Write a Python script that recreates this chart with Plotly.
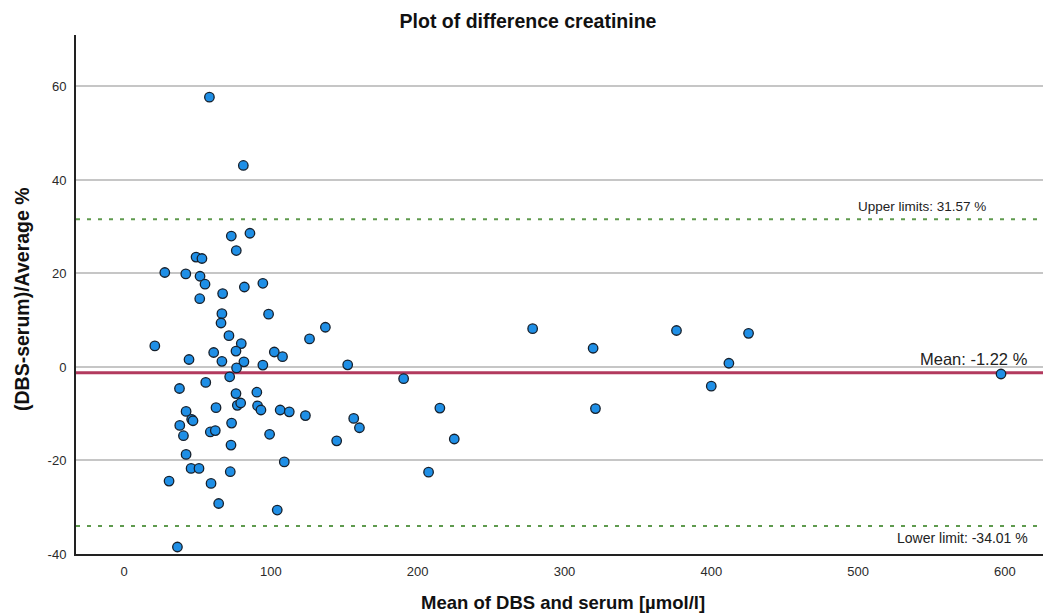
import plotly.graph_objects as go

# Mean of DBS and serum creatinine [µmol/l]
mean_umol = [
    58.1, 81.2,
    73.0, 85.7, 76.4, 49.0, 53.0, 27.7, 42.0, 51.7, 55.1, 81.9, 94.5, 67.1,
    51.5, 66.6, 98.4, 66.0, 71.4, 137.1, 126.3, 20.9, 79.8, 61.0, 76.2, 102.3,
    107.9, 44.2, 66.6, 81.6, 94.5, 76.6, 152.3, 71.9,
    37.7, 55.6, 76.2, 90.4, 77.1, 79.4, 62.6, 90.9, 93.2, 106.3, 112.5, 123.5,
    42.2, 46.0, 46.9, 37.9, 73.2, 58.7, 62.1, 40.4, 99.1, 72.8, 144.8, 42.2,
    109.1, 45.6, 51.0, 72.3, 30.6, 59.2, 64.4, 104.3, 36.3,
    156.4, 160.3, 190.4, 215.1, 224.9, 207.4,
    278.3, 319.5, 321.1, 376.3, 400.0, 412.0, 425.4, 597.4,
]

# Relative difference (DBS - serum) / average, in percent
diff_pct = [
    57.7, 43.1,
    28.0, 28.6, 24.9, 23.5, 23.2, 20.2, 19.9, 19.4, 17.7, 17.1, 17.9, 15.7,
    14.6, 11.4, 11.3, 9.4, 6.7, 8.5, 6.0, 4.5, 5.0, 3.1, 3.4, 3.2,
    2.2, 1.6, 1.2, 1.1, 0.4, -0.2, 0.45, -2.1,
    -4.6, -3.3, -5.7, -5.4, -8.2, -7.7, -8.7, -8.3, -9.2, -9.2, -9.6, -10.4,
    -9.5, -11.2, -11.5, -12.5, -12.0, -13.9, -13.6, -14.7, -14.4, -16.7, -15.8, -18.7,
    -20.3, -21.7, -21.7, -22.4, -24.4, -24.9, -29.2, -30.6, -38.5,
    -11.0, -13.0, -2.5, -8.8, -15.4, -22.5,
    8.2, 4.0, -8.9, 7.8, -4.1, 0.8, 7.2, -1.5,
]

# Bland-Altman summary lines
mean_diff = -1.22
upper_loa = 31.57
lower_loa = -34.01

x_ticks = [0, 100, 200, 300, 400, 500, 600]
x_tick_labels = ["0", "100", "200", "300", "400", "500", "600"]
y_ticks = [-40, -20, 0, 20, 40, 60]
y_tick_labels = ["-40", "-20", "0", "20", "40", "60"]

W, H = 1045, 615
M_L, M_R, M_T, M_B = 76, 2, 35, 61
FONT = "Liberation Sans, Arial, sans-serif"


def px_x(px):
    """Horizontal pixel position -> paper coordinate."""
    return (px - M_L) / (W - M_L - M_R)


def px_y(py):
    """Vertical pixel position (from top) -> paper coordinate."""
    return 1 - (py - M_T) / (H - M_T - M_B)


fig = go.Figure()

fig.add_trace(go.Scatter(
    x=mean_umol,
    y=diff_pct,
    mode="markers",
    marker=dict(size=9.5, color="#1f8fe6",
                line=dict(color="#16202c", width=1.3)),
    showlegend=False,
    hoverinfo="x+y",
))

# Mean and limits of agreement
fig.add_shape(type="line", xref="paper", yref="y", x0=0, x1=1,
              y0=mean_diff, y1=mean_diff,
              line=dict(color="#b23a5e", width=3), layer="below")
for lim in (upper_loa, lower_loa):
    fig.add_shape(type="line", xref="paper", yref="y", x0=0, x1=1,
                  y0=lim, y1=lim,
                  line=dict(color="#5f9a4e", width=2, dash="4px,7px"),
                  layer="below")

annotations = [
    dict(text="Upper limits: %.2f %%" % upper_loa, x=px_x(988), y=upper_loa,
         xref="paper", yref="y", xanchor="right", yanchor="bottom", yshift=3,
         showarrow=False, font=dict(family=FONT, size=13.5, color="#222")),
    dict(text="Mean: %.2f %%" % mean_diff, x=px_x(1030), y=mean_diff,
         xref="paper", yref="y", xanchor="right", yanchor="bottom", yshift=3,
         showarrow=False, font=dict(family=FONT, size=16.5, color="#222")),
    dict(text="Lower limit: %.2f %%" % lower_loa, x=px_x(1030), y=lower_loa,
         xref="paper", yref="y", xanchor="right", yanchor="top", yshift=-2,
         showarrow=False, font=dict(family=FONT, size=14, color="#222")),
    dict(text="<b>Mean of DBS and serum [µmol/l]</b>", x=px_x(563), y=px_y(602),
         xref="paper", yref="paper", xanchor="center", yanchor="middle",
         showarrow=False, font=dict(family=FONT, size=18.5, color="#111")),
    dict(text="<b>(DBS-serum)/Average %</b>", x=px_x(22), y=px_y(299),
         xref="paper", yref="paper", xanchor="center", yanchor="middle",
         textangle=-90, showarrow=False,
         font=dict(family=FONT, size=19.5, color="#111")),
]

fig.update_layout(
    width=W, height=H,
    margin=dict(l=M_L, r=M_R, t=M_T, b=M_B),
    paper_bgcolor="white", plot_bgcolor="white",
    title=dict(text="<b>Plot of difference creatinine</b>",
               x=528 / W, xref="container", xanchor="center",
               y=1 - 21 / H, yref="container", yanchor="middle",
               font=dict(family=FONT, size=19.5, color="#111")),
    annotations=annotations,
    font=dict(family=FONT, size=12, color="#333"),
    xaxis=dict(range=[-32.8, 626], tickvals=x_ticks, ticktext=x_tick_labels,
               showgrid=False, zeroline=False, showline=True,
               linecolor="#222", linewidth=2, ticks="",
               ticklabelstandoff=4,
               tickfont=dict(family=FONT, size=13, color="#2a2a2a")),
    yaxis=dict(range=[-40, 71.0], tickvals=y_ticks, ticktext=y_tick_labels,
               showgrid=True, gridcolor="#c6c6c6", gridwidth=1.6,
               zeroline=False, showline=True,
               linecolor="#222", linewidth=2, ticks="",
               ticklabelstandoff=5,
               tickfont=dict(family=FONT, size=13, color="#2a2a2a")),
)

fig.write_html("out.html")
